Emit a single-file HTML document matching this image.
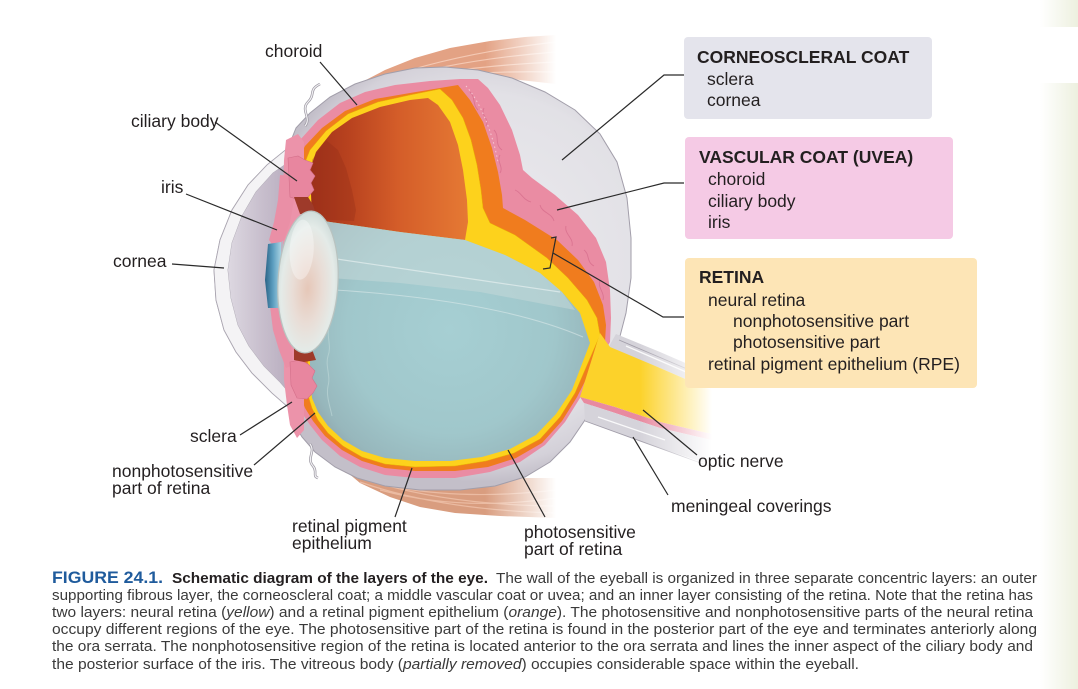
<!DOCTYPE html>
<html><head><meta charset="utf-8">
<style>
html,body{margin:0;padding:0;background:#fff;}
svg{display:block;}
text{font-family:"Liberation Sans",Arial,sans-serif;fill:#231f20;}
</style></head><body>
<svg width="1078" height="689" viewBox="0 0 1078 689" xmlns="http://www.w3.org/2000/svg">
<defs>
 <linearGradient id="strip" x1="0" x2="1" y1="0" y2="0"><stop offset="0" stop-color="#ffffff"/><stop offset="1" stop-color="#edf0df"/></linearGradient>
 <linearGradient id="fadeM" gradientUnits="userSpaceOnUse" x1="485" y1="0" x2="556" y2="0"><stop offset="0" stop-color="#fff"/><stop offset="1" stop-color="#000"/></linearGradient>
 <mask id="mM"><rect x="0" y="0" width="1078" height="689" fill="url(#fadeM)"/></mask>
 <linearGradient id="fadeN" gradientUnits="userSpaceOnUse" x1="640" y1="0" x2="712" y2="0"><stop offset="0" stop-color="#fff"/><stop offset="1" stop-color="#000"/></linearGradient>
 <mask id="mN"><rect x="0" y="0" width="1078" height="689" fill="url(#fadeN)"/></mask>
 <radialGradient id="scl" gradientUnits="userSpaceOnUse" cx="480" cy="260" r="222">
  <stop offset="0" stop-color="#ecebef"/><stop offset="0.75" stop-color="#e2e1e6"/><stop offset="0.92" stop-color="#d4d1d9"/><stop offset="1" stop-color="#c3bfc9"/>
 </radialGradient>
 <linearGradient id="intG" gradientUnits="userSpaceOnUse" x1="310" y1="0" x2="470" y2="0">
  <stop offset="0" stop-color="#a3321b"/><stop offset="0.25" stop-color="#b9431f"/><stop offset="0.55" stop-color="#d45d29"/><stop offset="1" stop-color="#e67a34"/>
 </linearGradient>
 <radialGradient id="vit" gradientUnits="userSpaceOnUse" cx="450" cy="330" r="172">
  <stop offset="0" stop-color="#a6cfd3"/><stop offset="0.6" stop-color="#a0c7cb"/><stop offset="0.85" stop-color="#97b7bc"/><stop offset="1" stop-color="#8c9ea6"/>
 </radialGradient>
 <linearGradient id="ac" gradientUnits="userSpaceOnUse" x1="228" y1="0" x2="292" y2="0">
  <stop offset="0" stop-color="#ddd8e1"/><stop offset="0.5" stop-color="#c9c0ce"/><stop offset="1" stop-color="#b7acbe"/>
 </linearGradient>
 <radialGradient id="lensG" cx="0.5" cy="0.55" r="0.55">
  <stop offset="0" stop-color="#e6c7b8"/><stop offset="0.45" stop-color="#e9ddd6"/><stop offset="0.8" stop-color="#e4ebe8"/><stop offset="1" stop-color="#cfdcda"/>
 </radialGradient>
 <linearGradient id="pupil" gradientUnits="userSpaceOnUse" x1="265" y1="0" x2="281" y2="0">
  <stop offset="0" stop-color="#2a6386"/><stop offset="0.5" stop-color="#5c9ec0"/><stop offset="1" stop-color="#a7d2e2"/>
 </linearGradient>
</defs>

<rect x="0" y="0" width="1078" height="689" fill="#fff"/>
<rect x="1040" y="0" width="38" height="689" fill="url(#strip)"/>
<rect x="1040" y="27" width="38" height="56" fill="#fff"/>

<!-- muscles -->
<g mask="url(#mM)">
 <polygon points="350,95 362,82 385,70 415,58 450,48 490,41 525,37 556,35 556,84 520,80 480,74 440,72 400,76 370,86" fill="#e3a284"/>
 <path d="M358,88 Q440,55 556,42 M368,86 Q450,60 556,52 M378,84 Q460,66 556,62 M390,82 Q470,70 556,72" stroke="#f4c9b4" stroke-width="1.2" fill="none"/>
 <polygon points="335,462 360,483 390,497 420,507 455,513 500,516 556,518 556,478 500,478 450,482 400,485" fill="#d99d7f"/>
 <path d="M345,472 Q430,505 556,506 M360,482 Q440,510 556,513 M380,490 Q460,512 556,498 M400,488 Q470,500 556,490" stroke="#ebbba2" stroke-width="1.2" fill="none"/>
</g>

<!-- sclera -->
<polygon points="296,128 310,113 330,97 355,84 385,74 415,68 445,67 478,70 512,78 545,92 575,110 600,134 617,162 627,198 631,238 631,278 626,313 619,340 600,385 585,420 570,442 550,462 525,477 495,486 460,490 420,490 385,486 357,478 335,467 315,452 302,437 293,422 288,407 272,393 252,373 236,352 224,330 216,300 214,270 220,240 232,210 248,185 267,165 288,148" fill="url(#scl)" stroke="#a29eaa" stroke-width="1"/>

<!-- choroid -->
<polygon points="300,140 318,120 340,103 365,92 395,85 430,81 460,79 478,79 488,88 500,105 512,130 520,155 523,170 532,178 555,195 578,215 596,238 606,262 610,290 611,318 610,342 580,398 565,422 545,445 520,462 490,472 455,478 415,478 385,475 360,467 340,456 322,440 310,425 300,410 292,395 288,380 286,160 292,146" fill="#ea8ca3"/>
<path d="M470,92 c6,6 2,12 8,18 M484,108 c-4,8 6,10 2,18 M494,130 c6,6 0,14 8,20 M500,155 c-4,6 4,12 0,18 M515,190 c6,2 8,10 16,12 M540,205 c2,8 12,8 14,16 M566,226 c-2,8 8,12 6,20 M584,250 c6,4 2,12 10,16 M600,280 c-3,8 5,12 3,20" stroke="#d06485" stroke-width="0.9" fill="none" opacity="0.6"/>
<path d="M466,86 C479,100 492,130 498,162" stroke="#f7c9d4" stroke-width="1" stroke-dasharray="1.5,3" fill="none"/>

<!-- RPE -->
<polygon points="305,146 322,128 345,111 375,99 410,93 440,88 458,85 470,100 483,122 492,148 498,172 502,195 503,208 525,220 557,240 578,260 594,282 603,305 606,325 605,342 577,397 562,421 542,443 516,458 488,467 455,471 415,471 385,468 362,461 342,450 325,436 313,421 305,408 300,395 298,160" fill="#f07c1e"/>

<!-- neural retina -->
<polygon points="310,150 326,131 348,114 378,102 410,95 440,89 452,100 463,118 471,140 477,165 481,190 483,208 490,223 515,235 547,258 568,278 587,300 597,318 600,335 575,393 560,417 540,439 514,453 486,461 455,466 415,467 385,464 362,457 343,446 328,433 318,420 312,408 308,395 306,160" fill="#fdd21c" stroke="#e9b300" stroke-width="0.5"/>

<!-- interior (upper cavity) -->
<polygon points="316,152 332,132 352,118 380,107 410,100 428,98 438,105 450,122 458,145 463,170 467,200 468,222 465,240 400,232 330,222 312,219 310,170" fill="url(#intG)"/>
<polygon points="312,160 326,140 338,150 346,168 352,190 356,210 354,221 312,219" fill="#8f2a16" opacity="0.3"/>

<!-- vitreous -->
<polygon points="310,219 330,222 400,232 465,240 505,255 540,273 562,292 580,313 590,343 572,390 556,414 536,435 510,449 482,457 450,461 415,461 385,458 362,451 343,440 328,426 318,412 312,398 310,380" fill="url(#vit)"/>
<polygon points="312,219 330,222 400,232 465,240 505,255 540,273 562,292 575,310 480,292 400,283 330,278 312,276" fill="#c7dada" opacity="0.5"/>
<path d="M330,258 L560,292" stroke="#e6f0ef" stroke-width="1.2" opacity="0.7" fill="none"/>
<path d="M335,290 C430,296 520,310 583,337" stroke="#e6f0ef" stroke-width="1" opacity="0.5" fill="none"/>
<path d="M330,296 c-3,10 3,20 -1,30 c-3,10 3,20 -1,30 c-3,10 3,20 0,30 c-2,10 2,20 4,30" stroke="#bcd5d6" stroke-width="1" opacity="0.7" fill="none"/>

<!-- optic nerve + sheath -->
<g mask="url(#mN)">
 <polygon points="616,334 660,352 720,378 720,394 660,368 608,348" fill="#d5d3da"/>
 <polygon points="600,333 610,347 660,368 720,394 720,436 660,422 615,407 580,397" fill="#fcd22a"/>
 <polygon points="580,397 615,407 660,422 720,436 720,442 660,428 612,412 584,403" fill="#e88aa0"/>
 <polygon points="584,403 612,412 660,428 720,442 720,468 660,448 585,421" fill="#d5d3da"/>
 <path d="M626,346 L700,378 M598,417 L665,440" stroke="#fff" stroke-width="1.3" opacity="0.85" fill="none"/>
 <path d="M619,340 L720,383 M585,421 L720,470" stroke="#a29eaa" stroke-width="0.9" fill="none"/>
</g>

<!-- cornea & anterior chamber -->
<polygon points="288,148 267,165 248,185 232,210 220,240 214,270 216,300 224,330 236,352 252,373 272,393 288,407 292,396 280,382 264,366 249,346 238,325 231,298 228,270 232,243 242,216 256,192 273,173 292,160" fill="#f4f3f5" stroke="#aba6b1" stroke-width="0.8"/>
<polygon points="292,160 273,173 256,192 242,216 232,243 228,270 231,298 238,325 249,346 264,366 280,382 292,396" fill="url(#ac)"/>

<!-- pink column, iris, ciliary -->
<polygon points="286,140 298,134 304,142 304,430 297,438 290,425 287,405 284,380 283,200 284,160" fill="#ec93aa"/>
<polygon points="280,175 292,176 294,200 290,222 284,240 274,247 269,240 274,222 278,200" fill="#ea8fa6"/>
<polygon points="270,306 280,305 287,322 291,345 293,365 286,368 279,350 273,330" fill="#ea8fa6"/>
<polygon points="268,244 281,242 281,308 268,308 265,280" fill="url(#pupil)"/>
<polygon points="288,158 298,156 305,160 313,163 310,170 315,176 311,183 314,190 308,197 300,200 290,197" fill="#e8869f" stroke="#d46f8a" stroke-width="0.6"/>
<polygon points="290,362 300,360 308,364 315,371 312,378 317,386 313,393 307,399 297,398 291,385" fill="#e8869f" stroke="#d46f8a" stroke-width="0.6"/>
<polygon points="294,197 308,197 313,205 316,214 300,214" fill="#9e3a2a"/>
<polygon points="294,345 310,344 316,360 304,362 294,360" fill="#9e3a2a"/>

<!-- lens -->
<g transform="rotate(3 308 282)">
 <ellipse cx="308" cy="282" rx="30" ry="71" fill="url(#lensG)" stroke="#b9c3c0" stroke-width="1.2"/>
 <ellipse cx="300" cy="250" rx="12" ry="30" fill="#fff" opacity="0.35"/>
</g>

<!-- small nerves -->
<path d="M305,126 C312,118 300,110 308,102 C316,94 308,90 320,84" stroke="#9a96a0" stroke-width="2.6" fill="none"/>
<path d="M305,126 C312,118 300,110 308,102 C316,94 308,90 320,84" stroke="#f2f1f4" stroke-width="1.2" fill="none"/>
<path d="M310,444 C316,452 306,458 313,466 C318,472 312,476 318,478" stroke="#9a96a0" stroke-width="2.6" fill="none"/>
<path d="M310,444 C316,452 306,458 313,466 C318,472 312,476 318,478" stroke="#f2f1f4" stroke-width="1.2" fill="none"/>

<!-- leader lines -->
<g stroke="#2a2a2a" stroke-width="1.2" fill="none">
 <path d="M684,75 L664,75 L562,160"/>
 <path d="M684,183 L664,183 L557,210"/>
 <path d="M551,238 L556,237 L550,268 L543,269"/>
 <path d="M553,253 L663,317 L684,317"/>
 <path d="M320,62 L357,105"/>
 <path d="M215,122 L297,181"/>
 <path d="M186,194 L277,230"/>
 <path d="M172,264 L224,268"/>
 <path d="M240,435 L292,402"/>
 <path d="M254,465 L315,413"/>
 <path d="M395,517 L412,468"/>
 <path d="M545,517 L508,450"/>
 <path d="M668,495 L633,437"/>
 <path d="M697,455 L643,410"/>
</g>

<!-- labels -->
<g font-size="17.5">
 <text x="265" y="57">choroid</text>
 <text x="131" y="127">ciliary body</text>
 <text x="161" y="193">iris</text>
 <text x="113" y="267">cornea</text>
 <text x="190" y="442">sclera</text>
 <text x="112" y="477">nonphotosensitive</text>
 <text x="112" y="494">part of retina</text>
 <text x="292" y="532">retinal pigment</text>
 <text x="292" y="549">epithelium</text>
 <text x="524" y="538">photosensitive</text>
 <text x="524" y="555">part of retina</text>
 <text x="698" y="467">optic nerve</text>
 <text x="671" y="512">meningeal coverings</text>
</g>

<!-- boxes -->
<rect x="684" y="37" width="248" height="82" rx="4" fill="#e4e4ec"/>
<rect x="685" y="137" width="268" height="102" rx="4" fill="#f5cae5"/>
<rect x="685" y="258" width="292" height="130" rx="4" fill="#fde5b6"/>
<g font-size="17.5">
 <text x="697" y="63" font-weight="bold">CORNEOSCLERAL COAT</text>
 <text x="707" y="85">sclera</text>
 <text x="707" y="106">cornea</text>
 <text x="699" y="163" font-weight="bold">VASCULAR COAT (UVEA)</text>
 <text x="708" y="185">choroid</text>
 <text x="708" y="207">ciliary body</text>
 <text x="708" y="228">iris</text>
 <text x="699" y="283" font-weight="bold">RETINA</text>
 <text x="708" y="306">neural retina</text>
 <text x="733" y="327">nonphotosensitive part</text>
 <text x="733" y="348">photosensitive part</text>
 <text x="708" y="370">retinal pigment epithelium (RPE)</text>
</g>

<!-- caption -->
<g font-size="15">
 <text x="52" y="583" font-size="17" font-weight="bold" style="fill:#1f5b9c" textLength="111" lengthAdjust="spacingAndGlyphs">FIGURE 24.1.</text>
 <text x="172" y="583" font-weight="bold" textLength="316" lengthAdjust="spacingAndGlyphs">Schematic diagram of the layers of the eye.</text>
 <text x="496" y="583" style="fill:#3a3a3a" textLength="541" lengthAdjust="spacingAndGlyphs">The wall of the eyeball is organized in three separate concentric layers: an outer</text>
 <text x="52" y="600" style="fill:#3a3a3a" textLength="981" lengthAdjust="spacingAndGlyphs">supporting fibrous layer, the corneoscleral coat; a middle vascular coat or uvea; and an inner layer consisting of the retina. Note that the retina has</text>
 <text x="52" y="617" style="fill:#3a3a3a" textLength="981" lengthAdjust="spacingAndGlyphs">two layers: neural retina (<tspan font-style="italic">yellow</tspan>) and a retinal pigment epithelium (<tspan font-style="italic">orange</tspan>). The photosensitive and nonphotosensitive parts of the neural retina</text>
 <text x="52" y="634" style="fill:#3a3a3a" textLength="985" lengthAdjust="spacingAndGlyphs">occupy different regions of the eye. The photosensitive part of the retina is found in the posterior part of the eye and terminates anteriorly along</text>
 <text x="52" y="651" style="fill:#3a3a3a" textLength="981" lengthAdjust="spacingAndGlyphs">the ora serrata. The nonphotosensitive region of the retina is located anterior to the ora serrata and lines the inner aspect of the ciliary body and</text>
 <text x="52" y="669" style="fill:#3a3a3a" textLength="807" lengthAdjust="spacingAndGlyphs">the posterior surface of the iris. The vitreous body (<tspan font-style="italic">partially removed</tspan>) occupies considerable space within the eyeball.</text>
</g>
</svg>
</body></html>
